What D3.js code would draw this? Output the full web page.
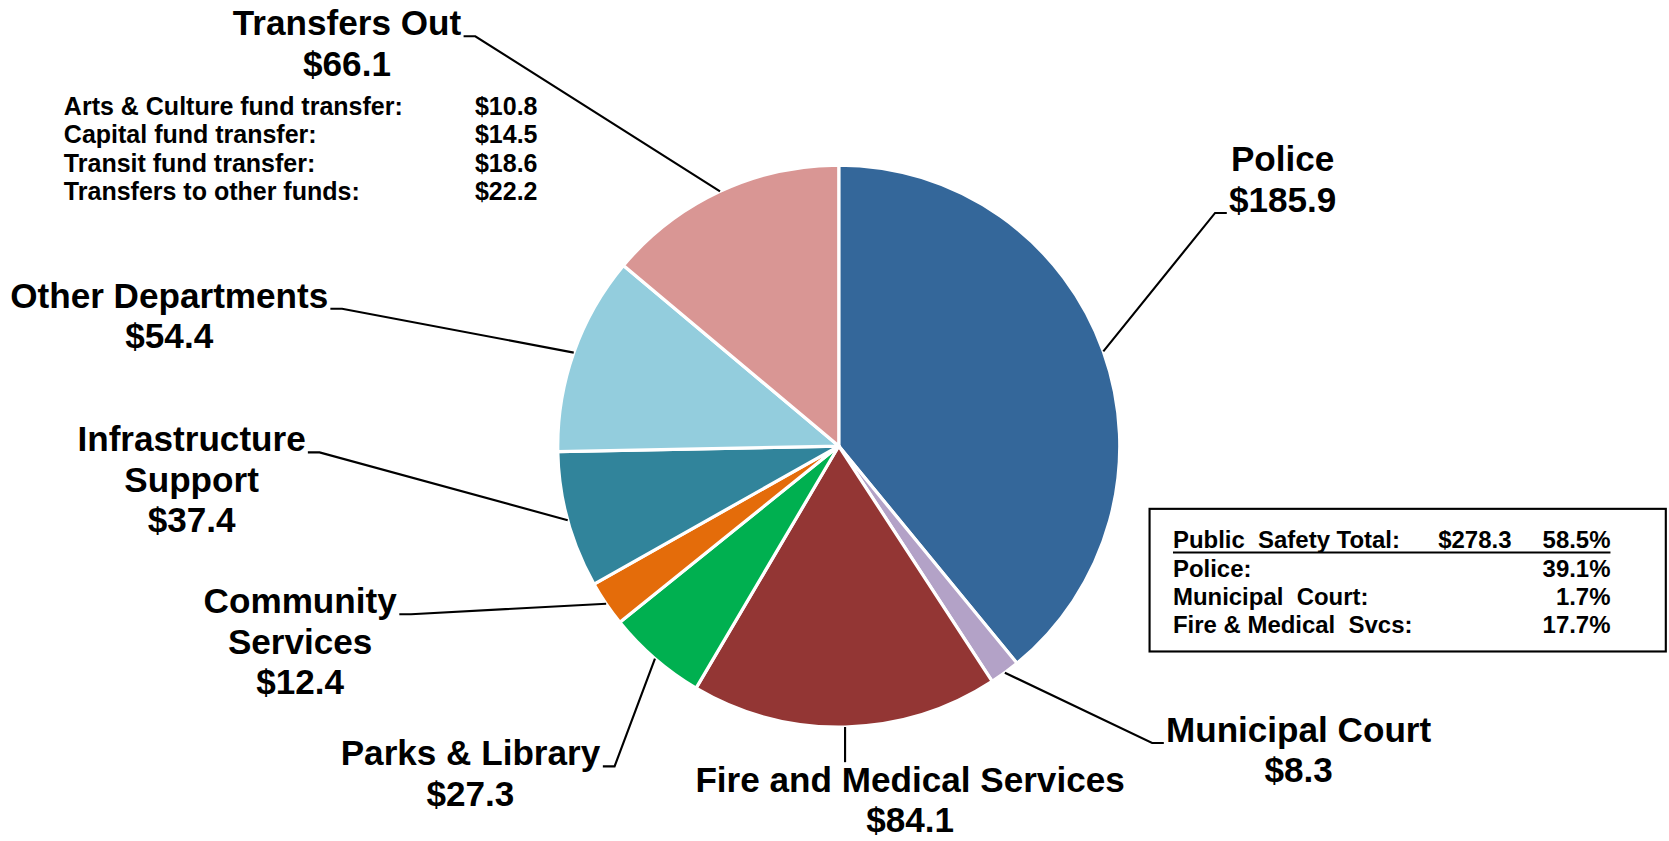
<!DOCTYPE html>
<html lang="en">
<head>
<meta charset="UTF-8">
<title>General Fund Expenditures</title>
<script src="https://d3js.org/d3.v7.min.js"></script>
<style>
  html, body { margin: 0; padding: 0; background: #fff; overflow: hidden; }
  svg { display: block; font-family: "Liberation Sans", Arial, sans-serif; font-weight: bold; }
</style>
</head>
<body>
<div id="chart"></div>
<script>
  // slice data, clockwise from 12 o'clock
  const categories = ["Police", "Municipal Court", "Fire and Medical Services", "Parks & Library",
                      "Community Services", "Infrastructure Support", "Other Departments", "Transfers Out"];
  const amounts = [185.9, 8.3, 84.1, 27.3, 12.4, 37.4, 54.4, 66.1];

  // transfers out breakdown
  const transferItems = ["Arts & Culture fund transfer:", "Capital fund transfer:",
                         "Transit fund transfer:", "Transfers to other funds:"];
  const transferAmounts = [10.8, 14.5, 18.6, 22.2];

  // public safety box
  const safetyRows = ["Public  Safety Total:", "Police:", "Municipal  Court:", "Fire & Medical  Svcs:"];
  const safetyAmounts = ["$278.3", "", "", ""];
  const safetyPct = ["58.5%", "39.1%", "1.7%", "17.7%"];

  const colors = ["#34679a", "#b3a2c7", "#933634", "#00b050", "#e46c0a", "#31849b", "#93cddd", "#d99694"];

  // label placement (drawing space is 1568 x 790, scaled to the window)
  const labelLayout = {
    "Police":                    { x: 1205, y: 161, lines: ["Police"], tick: { line: 1, side: "start" } },
    "Municipal Court":           { x: 1220, y: 697, lines: ["Municipal Court"], tick: { line: 0, side: "start" } },
    "Fire and Medical Services": { x: 855,  y: 744, lines: ["Fire and Medical Services"], tick: { vertical: 716 } },
    "Parks & Library":           { x: 442,  y: 719, lines: ["Parks & Library"], tick: { line: 0, side: "end" } },
    "Community Services":        { x: 282,  y: 576, lines: ["Community", "Services"], tick: { line: 0, side: "end" } },
    "Infrastructure Support":    { x: 180,  y: 424, lines: ["Infrastructure", "Support"], tick: { line: 0, side: "end" } },
    "Other Departments":         { x: 159,  y: 289, lines: ["Other Departments"], tick: { line: 0, side: "end" } },
    "Transfers Out":             { x: 326,  y: 33,  lines: ["Transfers Out"], tick: { line: 0, side: "end" } }
  };

  const W = 1568, H = 790;
  const svg = d3.select("#chart").append("svg")
    .attr("width", 1669)
    .attr("height", 841)
    .attr("viewBox", `0 0 ${W} ${H}`);

  const cx = 788, cy = 419, r = 264;

  const pie = d3.pie().sort(null).value(d => d)(amounts);
  const arc = d3.arc().innerRadius(0).outerRadius(r);
  const rim = d3.arc().innerRadius(r).outerRadius(r);

  const g = svg.append("g").attr("transform", `translate(${cx},${cy})`);

  g.selectAll("path.slice")
    .data(pie)
    .join("path")
    .attr("class", "slice")
    .attr("d", arc)
    .attr("fill", (d, i) => colors[i])
    .attr("stroke", "#fff")
    .attr("stroke-width", 3)
    .attr("stroke-linejoin", "round");

  // labels + leader lines
  const lineGap = 38;
  pie.forEach((d, i) => {
    const name = categories[i];
    const lay = labelLayout[name];
    const lines = lay.lines.concat(["$" + amounts[i].toFixed(1)]);

    const texts = lines.map((t, k) => svg.append("text")
      .attr("x", lay.x)
      .attr("y", lay.y + k * lineGap)
      .attr("text-anchor", "middle")
      .style("font-size", "33px")
      .attr("fill", "#000")
      .text(t));

    const [px, py] = rim.centroid(d);
    const start = [cx + px, cy + py];
    let pts;
    if (lay.tick.vertical) {
      pts = [start, [start[0], lay.tick.vertical]];
    } else {
      const bb = texts[lay.tick.line].node().getBBox();
      const ty = lay.y + lay.tick.line * lineGap + 1;
      let near, far;
      if (lay.tick.side === "end") { near = bb.x + bb.width + 2; far = near + 11; }
      else { near = bb.x - 2; far = near - 11; }
      pts = [start, [far, ty], [near, ty]];
    }
    svg.append("path")
      .attr("d", d3.line()(pts))
      .attr("fill", "none")
      .attr("stroke", "#000")
      .attr("stroke-width", 2);
  });

  // transfers breakdown list
  const tList = svg.append("g").style("font-size", "23.5px");
  transferItems.forEach((t, i) => {
    const y = 108 + i * 26.6;
    tList.append("text").attr("x", 60).attr("y", y).text(t);
    tList.append("text").attr("x", 505).attr("y", y).attr("text-anchor", "end")
      .text("$" + transferAmounts[i].toFixed(1));
  });

  // public safety box
  const box = svg.append("g").style("font-size", "22.5px");
  box.append("rect")
    .attr("x", 1080).attr("y", 478)
    .attr("width", 485).attr("height", 134)
    .attr("fill", "none").attr("stroke", "#000").attr("stroke-width", 2);

  const rowY = [515, 542, 568, 595];
  safetyRows.forEach((t, i) => {
    box.append("text").attr("x", 1102).attr("y", rowY[i])
      .style("white-space", "pre").text(t);
    if (safetyAmounts[i]) {
      box.append("text").attr("x", 1420).attr("y", rowY[i]).attr("text-anchor", "end")
        .text(safetyAmounts[i]);
    }
    box.append("text").attr("x", 1513).attr("y", rowY[i]).attr("text-anchor", "end")
      .text(safetyPct[i]);
  });
  box.append("line")
    .attr("x1", 1102).attr("x2", 1513)
    .attr("y1", 519).attr("y2", 519)
    .attr("stroke", "#000").attr("stroke-width", 2);
</script>
</body>
</html>
